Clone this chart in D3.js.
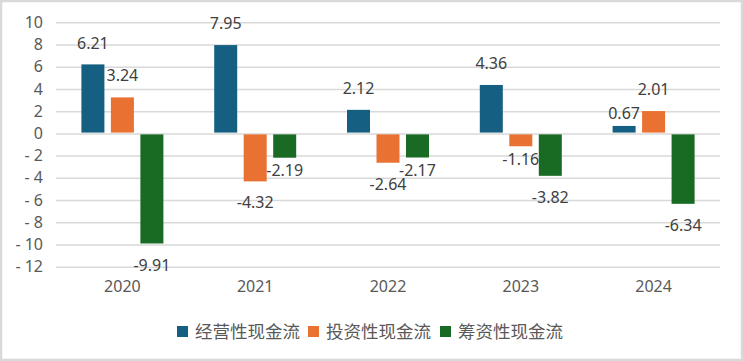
<!DOCTYPE html>
<html>
<head>
<meta charset="utf-8">
<script src="https://cdn.jsdelivr.net/npm/d3@7"></script>
<style>
  body { margin: 0; background: #fff; }
  text { font-family: "Noto Sans", "Noto Sans CJK SC", sans-serif; fill: #595959; }
  .axis path { display: none; }
  .axis line { display: none; }
  .grid line { stroke: #d9d9d9; stroke-width: 1.5; }
  .grid path { display: none; }
</style>
</head>
<body>
<div id="graph"></div>
<script>
var years = ["2020", "2021", "2022", "2023", "2024"];
var seriesNames = ["经营性现金流", "投资性现金流", "筹资性现金流"];
var operating = [6.21, 7.95, 2.12, 4.36, 0.67];
var investing = [3.24, -4.32, -2.64, -1.16, 2.01];
var financing = [-9.91, -2.19, -2.17, -3.82, -6.34];
var yTicks = [-12, -10, -8, -6, -4, -2, 0, 2, 4, 6, 8, 10];
var colors = ["#156082", "#E97132", "#196B24"];
// labels that sit closer to their bar (year|series index), as placed in the original
var closeLabels = ["2021|2", "2022|2", "2023|1", "2024|0"];

var W = 743, H = 361;
var plot = { left: 56, right: 720, top: 22.3, bottom: 266.7 };

var svg = d3.select("#graph").append("svg")
    .attr("width", W)
    .attr("height", H);

svg.append("rect")
    .attr("x", 1).attr("y", 1)
    .attr("width", W - 2).attr("height", H - 2)
    .attr("fill", "#fff")
    .attr("stroke", "#d9d9d9")
    .attr("stroke-width", 2.5);

var x = d3.scaleBand()
    .domain(years)
    .range([plot.left, plot.right])
    .padding(0);

var y = d3.scaleLinear()
    .domain([-12, 10])
    .range([plot.bottom, plot.top]);

var groupW = 82;
var xs = d3.scaleBand()
    .domain(seriesNames)
    .range([(x.bandwidth() - groupW) / 2, (x.bandwidth() + groupW) / 2])
    .paddingInner(0.22);

// gridlines
svg.append("g")
    .attr("class", "grid")
    .attr("transform", "translate(" + plot.left + ",0)")
    .call(d3.axisLeft(y).tickValues(yTicks).tickSize(-(plot.right - plot.left)).tickFormat(""));

// y axis labels
svg.append("g")
    .attr("class", "axis")
    .attr("transform", "translate(47,0)")
    .call(d3.axisLeft(y).tickValues(yTicks).tickSize(0).tickPadding(4)
        .tickFormat(function (d) { return d < 0 ? "- " + Math.abs(d) : String(d); }))
    .selectAll("text")
    .style("font-size", "16px")
    .style("fill", "#595959");

// x axis labels
svg.append("g")
    .attr("class", "axis")
    .attr("transform", "translate(0," + (plot.bottom + 8) + ")")
    .call(d3.axisBottom(x).tickSize(0).tickPadding(6))
    .selectAll("text")
    .style("font-size", "16px")
    .style("fill", "#595959");

var rows = [];
var all = [operating, investing, financing];
years.forEach(function (yr, i) {
    seriesNames.forEach(function (s, j) {
        rows.push({ year: yr, series: s, idx: j, value: all[j][i] });
    });
});

var groups = svg.append("g");

groups.selectAll(".bar")
    .data(rows)
    .enter().append("rect")
    .attr("class", "bar")
    .attr("x", function (d) { return x(d.year) + xs(d.series); })
    .attr("y", function (d) { return d.value >= 0 ? y(d.value) : y(0) + 1; })
    .attr("width", xs.bandwidth())
    .attr("height", function (d) { return Math.abs(y(d.value) - y(0)) - (d.value >= 0 ? 0.8 : 1); })
    .attr("fill", function (d) { return colors[d.idx]; });

function gap(d) {
    return closeLabels.indexOf(d.year + "|" + d.idx) >= 0 ? 13 : 21.5;
}

groups.selectAll(".lbl")
    .data(rows)
    .enter().append("text")
    .attr("class", "lbl")
    .attr("x", function (d) { return x(d.year) + xs(d.series) + xs.bandwidth() / 2; })
    .attr("y", function (d) { return d.value >= 0 ? y(d.value) - gap(d) : y(d.value) + gap(d); })
    .attr("dy", "0.35em")
    .attr("text-anchor", "middle")
    .style("font-size", "16px")
    .style("fill", "#404040")
    .text(function (d) { return d.value < 0 ? "-" + Math.abs(d.value).toFixed(2) : d.value.toFixed(2); });

// legend
var legend = svg.append("g");
var legendX = [177, 308, 440];
seriesNames.forEach(function (s, j) {
    legend.append("rect")
        .attr("x", legendX[j]).attr("y", 326)
        .attr("width", 11).attr("height", 11)
        .attr("fill", colors[j]);
    legend.append("text")
        .attr("x", legendX[j] + 18).attr("y", 332)
        .attr("dy", "0.35em")
        .style("font-family", "'Noto Sans CJK SC', sans-serif")
        .style("font-size", "17.5px")
        .style("fill", "#595959")
        .text(s);
});
</script>
</body>
</html>
